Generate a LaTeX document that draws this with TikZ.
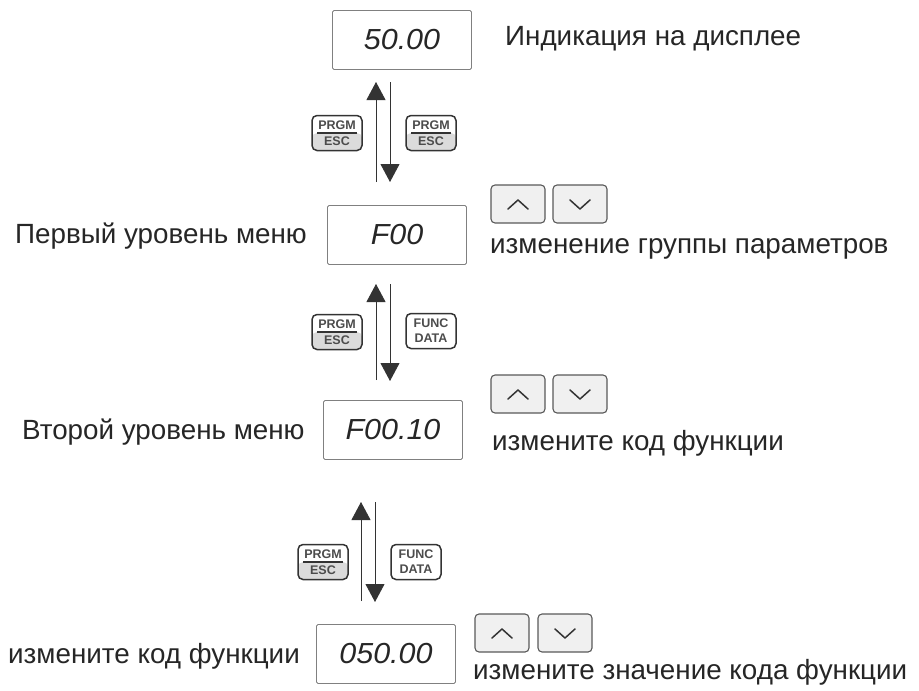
\documentclass[tikz,border=0pt]{standalone}
\usepackage{fontspec}
\setmainfont{Liberation Sans}
\newfontfamily\segfont{Liberation Sans}
\usetikzlibrary{arrows.meta}
\newcommand\prgkey[4]{%
  \node[keyb, keygray] (#1) at (#2,#3) {};
  \draw[line width=1.8pt, black!80] ([xshift=-20pt]#1.center) -- ([xshift=20pt]#1.center);
  \node[keyt] at ([yshift=8pt]#1.center) {PRGM};
  \node[keyt] at ([yshift=-8pt]#1.center) {ESC};
}
\newcommand\funckey[4]{%
  \node[keyb] (#1) at (#2,#3) {};
  \node[keyt] at ([yshift=7.5pt]#1.center) {FUNC};
  \node[keyt] at ([yshift=-7.5pt]#1.center) {DATA};
}
\newcommand\updown[5]{%
  \node[udkey] (#1) at (#3,#5) {};
  \node[udkey] (#2) at (#4,#5) {};
  \draw[chev] (#1.center) ++(-10,5) -- ++(10,-9) -- ++(10,9);
  \draw[chev] (#2.center) ++(-10,-4) -- ++(10,9) -- ++(10,-9);
}
\begin{document}
\begin{tikzpicture}[x=1pt,y=-1pt,
  disp/.style={draw=black!50, line width=0.9pt, rounded corners=1.5pt,
    minimum width=139pt, minimum height=59pt, inner sep=0pt,
    font=\segfont\itshape\fontsize{29}{29}\selectfont, text=black!85},
  lbl/.style={font=\fontsize{27.8}{30}\selectfont, inner sep=0pt, text=black!85, anchor=base west},
  keyb/.style={draw=black!80, line width=1.5pt, rounded corners=5pt,
    minimum width=50pt, minimum height=35pt, fill=white, inner sep=0pt},
  keygray/.style={path picture={\fill[black!14] (path picture bounding box.west) rectangle (path picture bounding box.south east);}},
  keyt/.style={font=\bfseries\fontsize{12.5}{12.5}\selectfont, text=black!70, inner sep=0pt},
  udkey/.style={draw=black!65, line width=1.1pt, rounded corners=4pt, fill=black!6,
    minimum width=54pt, minimum height=38pt, inner sep=0pt},
  chev/.style={line width=1.5pt, black!80, line cap=round, line join=round},
  arr/.style={line width=0.9pt, black!80, -{Triangle[width=19pt,length=18pt]}}
]
\useasboundingbox (0,0) rectangle (919,691);

% displays
\node[disp] (d1) at (402,40) {\scalebox{1.05}[1]{50.00}};
\node[disp] (d2) at (397,235) {\scalebox{1.05}[1]{F00}};
\node[disp] (d3) at (393,430) {\scalebox{1.05}[1]{F00.10}};
\node[disp] (d4) at (386,654) {\scalebox{1.05}[1]{050.00}};

% labels
\node[lbl] (t1) at (505,45) {Индикация на дисплее};
\node[lbl] (t2) at (15,243) {Первый уровень меню};
\node[lbl] (t3) at (490,253) {изменение группы параметров};
\node[lbl] (t4) at (22,439) {Второй уровень меню};
\node[lbl] (t5) at (492,450) {измените код функции};
\node[lbl] (t6) at (8,663) {измените код функции};
\node[lbl] (t7) at (473,679) {измените значение кода функции};

% arrows
\coordinate (a1u0) at (376,182); \coordinate (a1u1) at (376,82);
\coordinate (a1d0) at (390,82);  \coordinate (a1d1) at (390,182);
\coordinate (a2u0) at (376,380); \coordinate (a2u1) at (376,284);
\coordinate (a2d0) at (390,284); \coordinate (a2d1) at (390,381);
\coordinate (a3u0) at (361,601); \coordinate (a3u1) at (361,502);
\coordinate (a3d0) at (375,502); \coordinate (a3d1) at (375,602);
\draw[arr] (a1u0) -- (a1u1);
\draw[arr] (a1d0) -- (a1d1);
\draw[arr] (a2u0) -- (a2u1);
\draw[arr] (a2d0) -- (a2d1);
\draw[arr] (a3u0) -- (a3u1);
\draw[arr] (a3d0) -- (a3d1);

% keys
\prgkey{k1a}{337}{133}{}
\prgkey{k1b}{431}{133}{}
\prgkey{k2a}{337}{332}{}
\funckey{k2b}{431}{331}{}
\prgkey{k3a}{323}{562}{}
\funckey{k3b}{416}{562}{}

% up/down keys
\updown{u1}{v1}{518}{580}{204}
\updown{u2}{v2}{518}{580}{394}
\updown{u3}{v3}{502}{565}{633}
\end{tikzpicture}
\end{document}
